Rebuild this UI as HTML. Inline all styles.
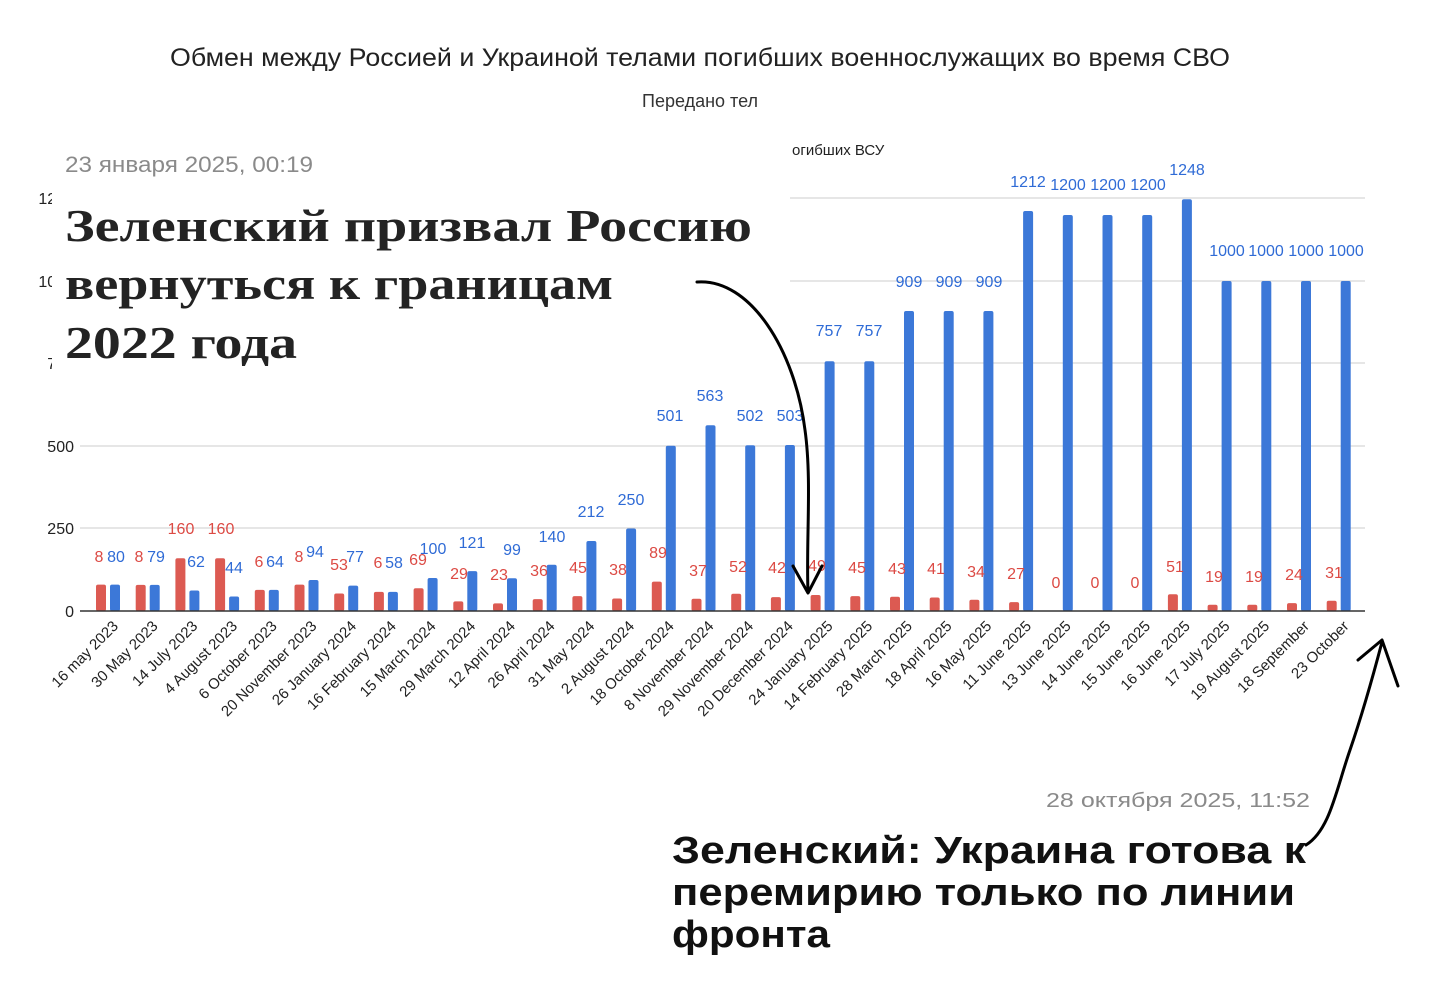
<!DOCTYPE html>
<html><head><meta charset="utf-8"><style>
html,body{margin:0;padding:0;background:#fff;}
svg{display:block;}
.t{font-family:"Liberation Sans",sans-serif;}
.b{fill:#3c78d8}.r{fill:#dc5a52}
.bl{fill:#2f6bd6;font-size:16px;text-anchor:middle;font-family:"Liberation Sans",sans-serif}
.rl{fill:#dc4a44;font-size:16px;text-anchor:middle;font-family:"Liberation Sans",sans-serif}
.xl{font-size:15px;text-anchor:end;font-family:"Liberation Sans",sans-serif;fill:#222}
.yl{font-size:16px;text-anchor:end;font-family:"Liberation Sans",sans-serif;fill:#222}
</style></head><body>
<svg width="1444" height="1000" viewBox="0 0 1444 1000" xmlns="http://www.w3.org/2000/svg">
<rect width="1444" height="1000" fill="#fff"/>
<text x="700" y="66" class="t" font-size="25" text-anchor="middle" fill="#222" textLength="1060" lengthAdjust="spacingAndGlyphs">Обмен между Россией и Украиной телами погибших военнослужащих во время СВО</text>
<text x="700" y="107" class="t" font-size="18" text-anchor="middle" fill="#333">Передано тел</text>
<g stroke="#ccc" stroke-width="1">
<line x1="80" y1="198" x2="1365" y2="198"/><line x1="80" y1="281" x2="1365" y2="281"/>
<line x1="80" y1="363" x2="1365" y2="363"/><line x1="80" y1="446" x2="1365" y2="446"/>
<line x1="80" y1="528" x2="1365" y2="528"/>
</g>
<text x="74" y="617" class="yl">0</text><text x="74" y="534" class="yl">250</text><text x="74" y="452" class="yl">500</text>
<text x="74" y="369" class="yl">750</text><text x="74" y="287" class="yl">1000</text><text x="74" y="204" class="yl">1250</text>
<g>
<rect class="b" x="110" y="584.6" width="10" height="26.4" rx="2"/><rect class="r" x="96" y="584.6" width="10" height="26.4" rx="2"/>
<rect class="b" x="149.7" y="584.9" width="10" height="26.1" rx="2"/><rect class="r" x="135.7" y="584.9" width="10" height="26.1" rx="2"/>
<rect class="b" x="189.4" y="590.5" width="10" height="20.5" rx="2"/><rect class="r" x="175.4" y="558.2" width="10" height="52.8" rx="2"/>
<rect class="b" x="229.1" y="596.5" width="10" height="14.5" rx="2"/><rect class="r" x="215.1" y="558.2" width="10" height="52.8" rx="2"/>
<rect class="b" x="268.8" y="589.9" width="10" height="21.1" rx="2"/><rect class="r" x="254.8" y="589.9" width="10" height="21.1" rx="2"/>
<rect class="b" x="308.5" y="580" width="10" height="31" rx="2"/><rect class="r" x="294.5" y="584.6" width="10" height="26.4" rx="2"/>
<rect class="b" x="348.2" y="585.6" width="10" height="25.4" rx="2"/><rect class="r" x="334.2" y="593.5" width="10" height="17.5" rx="2"/>
<rect class="b" x="387.9" y="591.9" width="10" height="19.1" rx="2"/><rect class="r" x="373.9" y="591.9" width="10" height="19.1" rx="2"/>
<rect class="b" x="427.6" y="578" width="10" height="33" rx="2"/><rect class="r" x="413.6" y="588.2" width="10" height="22.8" rx="2"/>
<rect class="b" x="467.3" y="571.1" width="10" height="39.9" rx="2"/><rect class="r" x="453.3" y="601.4" width="10" height="9.6" rx="2"/>
<rect class="b" x="507" y="578.3" width="10" height="32.7" rx="2"/><rect class="r" x="493" y="603.4" width="10" height="7.6" rx="2"/>
<rect class="b" x="546.7" y="564.8" width="10" height="46.2" rx="2"/><rect class="r" x="532.7" y="599.1" width="10" height="11.9" rx="2"/>
<rect class="b" x="586.4" y="541" width="10" height="70" rx="2"/><rect class="r" x="572.4" y="596.1" width="10" height="14.9" rx="2"/>
<rect class="b" x="626.1" y="528.5" width="10" height="82.5" rx="2"/><rect class="r" x="612.1" y="598.5" width="10" height="12.5" rx="2"/>
<rect class="b" x="665.8" y="445.7" width="10" height="165.3" rx="2"/><rect class="r" x="651.8" y="581.6" width="10" height="29.4" rx="2"/>
<rect class="b" x="705.5" y="425.2" width="10" height="185.8" rx="2"/><rect class="r" x="691.5" y="598.8" width="10" height="12.2" rx="2"/>
<rect class="b" x="745.2" y="445.3" width="10" height="165.7" rx="2"/><rect class="r" x="731.2" y="593.8" width="10" height="17.2" rx="2"/>
<rect class="b" x="784.9" y="445" width="10" height="166" rx="2"/><rect class="r" x="770.9" y="597.1" width="10" height="13.9" rx="2"/>
<rect class="b" x="824.6" y="361.2" width="10" height="249.8" rx="2"/><rect class="r" x="810.6" y="595" width="10" height="16" rx="2"/>
<rect class="b" x="864.3" y="361.2" width="10" height="249.8" rx="2"/><rect class="r" x="850.3" y="596.1" width="10" height="14.9" rx="2"/>
<rect class="b" x="904" y="311" width="10" height="300" rx="2"/><rect class="r" x="890" y="596.8" width="10" height="14.2" rx="2"/>
<rect class="b" x="943.7" y="311" width="10" height="300" rx="2"/><rect class="r" x="929.7" y="597.5" width="10" height="13.5" rx="2"/>
<rect class="b" x="983.4" y="311" width="10" height="300" rx="2"/><rect class="r" x="969.4" y="599.8" width="10" height="11.2" rx="2"/>
<rect class="b" x="1023.1" y="211" width="10" height="400" rx="2"/><rect class="r" x="1009.1" y="602.1" width="10" height="8.9" rx="2"/>
<rect class="b" x="1062.8" y="215" width="10" height="396" rx="2"/>
<rect class="b" x="1102.5" y="215" width="10" height="396" rx="2"/>
<rect class="b" x="1142.2" y="215" width="10" height="396" rx="2"/>
<rect class="b" x="1181.9" y="199.2" width="10" height="411.8" rx="2"/><rect class="r" x="1167.9" y="594.2" width="10" height="16.8" rx="2"/>
<rect class="b" x="1221.6" y="281" width="10" height="330" rx="2"/><rect class="r" x="1207.6" y="604.7" width="10" height="6.3" rx="2"/>
<rect class="b" x="1261.3" y="281" width="10" height="330" rx="2"/><rect class="r" x="1247.3" y="604.7" width="10" height="6.3" rx="2"/>
<rect class="b" x="1301" y="281" width="10" height="330" rx="2"/><rect class="r" x="1287" y="603.1" width="10" height="7.9" rx="2"/>
<rect class="b" x="1340.7" y="281" width="10" height="330" rx="2"/><rect class="r" x="1326.7" y="600.8" width="10" height="10.2" rx="2"/>
</g>
<line x1="80" y1="611" x2="1365" y2="611" stroke="#333" stroke-width="1.5"/>
<g>
<text class="rl" x="99" y="562">8</text><text class="bl" x="116" y="562">80</text>
<text class="rl" x="139" y="562">8</text><text class="bl" x="156" y="562">79</text>
<text class="rl" x="181" y="534">160</text><text class="bl" x="196" y="567">62</text>
<text class="rl" x="221" y="534">160</text><text class="bl" x="234" y="573">44</text>
<text class="rl" x="259" y="567">6</text><text class="bl" x="275" y="567">64</text>
<text class="rl" x="299" y="562">8</text><text class="bl" x="315" y="557">94</text>
<text class="rl" x="339" y="570">53</text><text class="bl" x="355" y="562">77</text>
<text class="rl" x="378" y="568">6</text><text class="bl" x="394" y="568">58</text>
<text class="rl" x="418" y="565">69</text><text class="bl" x="433" y="554">100</text>
<text class="rl" x="459" y="579">29</text><text class="bl" x="472" y="548">121</text>
<text class="rl" x="499" y="580">23</text><text class="bl" x="512" y="555">99</text>
<text class="rl" x="539" y="576">36</text><text class="bl" x="552" y="542">140</text>
<text class="rl" x="578" y="573">45</text><text class="bl" x="591" y="517">212</text>
<text class="rl" x="618" y="575">38</text><text class="bl" x="631" y="505">250</text>
<text class="rl" x="658" y="558">89</text><text class="bl" x="670" y="421">501</text>
<text class="rl" x="698" y="576">37</text><text class="bl" x="710" y="401">563</text>
<text class="rl" x="738" y="572">52</text><text class="bl" x="750" y="421">502</text>
<text class="rl" x="777" y="573">42</text><text class="bl" x="790" y="421">503</text>
<text class="rl" x="817" y="571">49</text><text class="bl" x="829" y="336">757</text>
<text class="rl" x="857" y="573">45</text><text class="bl" x="869" y="336">757</text>
<text class="rl" x="897" y="574">43</text><text class="bl" x="909" y="287">909</text>
<text class="rl" x="936" y="574">41</text><text class="bl" x="949" y="287">909</text>
<text class="rl" x="976" y="577">34</text><text class="bl" x="989" y="287">909</text>
<text class="rl" x="1016" y="579">27</text><text class="bl" x="1028" y="187">1212</text>
<text class="rl" x="1056" y="588">0</text><text class="bl" x="1068" y="190">1200</text>
<text class="rl" x="1095" y="588">0</text><text class="bl" x="1108" y="190">1200</text>
<text class="rl" x="1135" y="588">0</text><text class="bl" x="1148" y="190">1200</text>
<text class="rl" x="1175" y="572">51</text><text class="bl" x="1187" y="175">1248</text>
<text class="rl" x="1214" y="582">19</text><text class="bl" x="1227" y="256">1000</text>
<text class="rl" x="1254" y="582">19</text><text class="bl" x="1266" y="256">1000</text>
<text class="rl" x="1294" y="580">24</text><text class="bl" x="1306" y="256">1000</text>
<text class="rl" x="1334" y="578">31</text><text class="bl" x="1346" y="256">1000</text>
</g>
<g>
<text class="xl" transform="translate(119,627) rotate(-45)">16 may 2023</text>
<text class="xl" transform="translate(158.7,627) rotate(-45)">30 May 2023</text>
<text class="xl" transform="translate(198.4,627) rotate(-45)">14 July 2023</text>
<text class="xl" transform="translate(238.1,627) rotate(-45)">4 August 2023</text>
<text class="xl" transform="translate(277.8,627) rotate(-45)">6 October 2023</text>
<text class="xl" transform="translate(317.5,627) rotate(-45)">20 November 2023</text>
<text class="xl" transform="translate(357.2,627) rotate(-45)">26 January 2024</text>
<text class="xl" transform="translate(396.9,627) rotate(-45)">16 February 2024</text>
<text class="xl" transform="translate(436.6,627) rotate(-45)">15 March 2024</text>
<text class="xl" transform="translate(476.3,627) rotate(-45)">29 March 2024</text>
<text class="xl" transform="translate(516,627) rotate(-45)">12 April 2024</text>
<text class="xl" transform="translate(555.7,627) rotate(-45)">26 April 2024</text>
<text class="xl" transform="translate(595.4,627) rotate(-45)">31 May 2024</text>
<text class="xl" transform="translate(635.1,627) rotate(-45)">2 August 2024</text>
<text class="xl" transform="translate(674.8,627) rotate(-45)">18 October 2024</text>
<text class="xl" transform="translate(714.5,627) rotate(-45)">8 November 2024</text>
<text class="xl" transform="translate(754.2,627) rotate(-45)">29 November 2024</text>
<text class="xl" transform="translate(793.9,627) rotate(-45)">20 December 2024</text>
<text class="xl" transform="translate(833.6,627) rotate(-45)">24 January 2025</text>
<text class="xl" transform="translate(873.3,627) rotate(-45)">14 February 2025</text>
<text class="xl" transform="translate(913,627) rotate(-45)">28 March 2025</text>
<text class="xl" transform="translate(952.7,627) rotate(-45)">18 April 2025</text>
<text class="xl" transform="translate(992.4,627) rotate(-45)">16 May 2025</text>
<text class="xl" transform="translate(1032.1,627) rotate(-45)">11 June 2025</text>
<text class="xl" transform="translate(1071.8,627) rotate(-45)">13 June 2025</text>
<text class="xl" transform="translate(1111.5,627) rotate(-45)">14 June 2025</text>
<text class="xl" transform="translate(1151.2,627) rotate(-45)">15 June 2025</text>
<text class="xl" transform="translate(1190.9,627) rotate(-45)">16 June 2025</text>
<text class="xl" transform="translate(1230.6,627) rotate(-45)">17 July 2025</text>
<text class="xl" transform="translate(1270.3,627) rotate(-45)">19 August 2025</text>
<text class="xl" transform="translate(1310,627) rotate(-45)">18 September</text>
<text class="xl" transform="translate(1349.7,627) rotate(-45)">23 October</text>
</g>
<!-- overlay 1 -->
<rect x="52" y="132" width="738" height="252" fill="#fff"/>
<text x="792" y="155" class="t" font-size="15" fill="#222">огибших ВСУ</text>
<text x="65" y="172" class="t" font-size="22" fill="#8a8a8a" textLength="248" lengthAdjust="spacingAndGlyphs">23 января 2025, 00:19</text>
<g font-family="Liberation Serif, serif" font-weight="bold" font-size="46" fill="#232323">
<text x="65" y="241" textLength="687" lengthAdjust="spacingAndGlyphs">Зеленский призвал Россию</text>
<text x="65" y="299" textLength="548" lengthAdjust="spacingAndGlyphs">вернуться к границам</text>
<text x="65" y="358" textLength="232" lengthAdjust="spacingAndGlyphs">2022 года</text>
</g>
<!-- overlay 2 -->
<rect x="630" y="778" width="712" height="190" fill="#fff"/>
<text x="1310" y="807" class="t" font-size="20" fill="#8a8a8a" text-anchor="end" textLength="264" lengthAdjust="spacingAndGlyphs">28 октября 2025, 11:52</text>
<g class="t" font-weight="bold" font-size="38" fill="#111">
<text x="672" y="863" textLength="634" lengthAdjust="spacingAndGlyphs">Зеленский: Украина готова к</text>
<text x="672" y="905" textLength="623" lengthAdjust="spacingAndGlyphs">перемирию только по линии</text>
<text x="672" y="947" textLength="158" lengthAdjust="spacingAndGlyphs">фронта</text>
</g>
<!-- arrows -->
<g fill="none" stroke="#000" stroke-width="3" stroke-linecap="round" stroke-linejoin="round">
<path d="M697,282 C750,278 795,350 805,430 C812,480 806,540 808,592"/>
<path d="M793,566 L808,593 L822,566"/>
<path d="M1306,845 C1330,830 1336,790 1350,750 C1362,715 1372,680 1382,642"/>
<path d="M1358,660 L1382,640 L1398,686"/>
</g>
</svg>
</body></html>
